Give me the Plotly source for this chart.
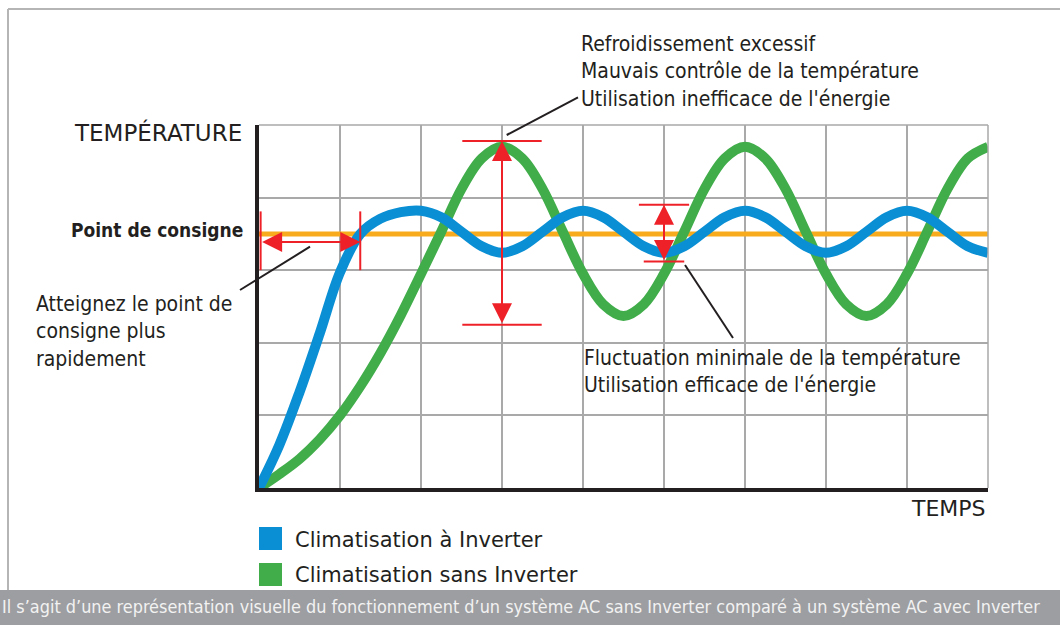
import plotly.graph_objects as go

# ---------------- data (time in grid columns 0..9, temperature in grid rows 0..5) ----------------
SETPOINT = 3.5
setpoint_x = [0, 9]
setpoint_y = [SETPOINT, SETPOINT]

inverter_x = [0, 0.25, 0.5, 0.75, 1.0, 1.25, 1.5, 1.75,
              2.0, 2.25, 2.5, 2.75, 3.0, 3.25, 3.5, 3.75,
              4.0, 4.25, 4.5, 4.75, 5.0, 5.25, 5.5, 5.75,
              6.0, 6.25, 6.5, 6.75, 7.0, 7.25, 7.5, 7.75,
              8.0, 8.25, 8.5, 8.75, 9.0]
inverter_y = [0, 0.59, 1.32, 2.13, 2.97, 3.5, 3.71, 3.80,
              3.82, 3.73, 3.53, 3.33, 3.24, 3.33, 3.53, 3.73,
              3.82, 3.73, 3.53, 3.33, 3.24, 3.33, 3.53, 3.73,
              3.82, 3.73, 3.53, 3.33, 3.24, 3.33, 3.53, 3.73,
              3.82, 3.73, 3.53, 3.33, 3.24]

non_inverter_x = [0, 0.25, 0.5, 0.75, 1.0, 1.25, 1.5, 1.75, 2.0, 2.25, 2.5, 2.75,
                  3.0, 3.25, 3.5, 3.75, 4.0, 4.25, 4.5, 4.75, 5.0, 5.25, 5.5, 5.75,
                  6.0, 6.25, 6.5, 6.75, 7.0, 7.25, 7.5, 7.75, 8.0, 8.25, 8.5, 8.75, 9.0]
non_inverter_y = [0, 0.19, 0.40, 0.67, 1.0, 1.40, 1.86, 2.38, 2.95, 3.53, 4.12, 4.54,
                  4.70, 4.54, 4.12, 3.53, 2.95, 2.53, 2.37, 2.53, 2.95, 3.53, 4.12, 4.54,
                  4.70, 4.54, 4.12, 3.53, 2.95, 2.53, 2.37, 2.53, 2.95, 3.53, 4.12, 4.54, 4.70]

series_names = ["Climatisation à Inverter", "Climatisation sans Inverter"]

# ---------------- style ----------------
BLUE = "#0a8fd5"
GREEN = "#40ad4a"
ORANGE = "#f8ab1c"
RED = "#ee2028"
INK = "#231f20"
GRID = "#a9a9a9"

F_WIDE = "DejaVu Sans, Liberation Sans, sans-serif"
F_COND = "DejaVu Sans Condensed, Roboto, Liberation Sans Narrow, sans-serif"

W, H = 1060, 625
ML, MR, MT, MB = 259, 72, 125, 137
PW, PH = W - ML - MR, H - MT - MB


def px(x):
    return (x - ML) / PW


def py(y):
    return (H - MB - y) / PH


fig = go.Figure()
fig.add_trace(go.Scatter(x=setpoint_x, y=setpoint_y, mode="lines",
                         line=dict(color=ORANGE, width=5), hoverinfo="skip", showlegend=False))
fig.add_trace(go.Scatter(x=non_inverter_x, y=non_inverter_y, mode="lines", name=series_names[1],
                         line=dict(color=GREEN, width=10, shape="spline", smoothing=1.0), showlegend=False))
fig.add_trace(go.Scatter(x=inverter_x, y=inverter_y, mode="lines", name=series_names[0],
                         line=dict(color=BLUE, width=10, shape="spline", smoothing=1.0), showlegend=False))

shapes = []
annotations = []

# outer frame and caption bar
shapes.append(dict(type="line", xref="paper", yref="paper", x0=px(8), y0=py(9), x1=px(1062), y1=py(9),
                   line=dict(color="#b5b5b5", width=2), layer="below"))
shapes.append(dict(type="line", xref="paper", yref="paper", x0=px(8), y0=py(9), x1=px(8), y1=py(590),
                   line=dict(color="#b5b5b5", width=2), layer="below"))
shapes.append(dict(type="rect", xref="paper", yref="paper", x0=px(-2), y0=py(590), x1=px(1062), y1=py(627),
                   fillcolor="#9d9ea1", line=dict(width=0), layer="below"))
# plot borders (top/right)
shapes.append(dict(type="line", xref="paper", yref="paper", x0=0, y0=1, x1=1, y1=1,
                   line=dict(color=GRID, width=1.5)))
shapes.append(dict(type="line", xref="paper", yref="paper", x0=1, y0=0, x1=1, y1=1,
                   line=dict(color=GRID, width=1.5)))

# legend squares
for i, col in enumerate([BLUE, GREEN]):
    top = 527 + i * 36
    shapes.append(dict(type="rect", xref="paper", yref="paper", x0=px(259), x1=px(282),
                       y0=py(top + 23), y1=py(top), fillcolor=col, line=dict(width=0)))
    annotations.append(dict(xref="paper", yref="paper", x=px(293), y=py(539.5 + i * 35.5),
                            text=series_names[i], showarrow=False, xanchor="left", yanchor="middle",
                            font=dict(family=F_WIDE, size=21, color=INK)))

# ---- red measurement marks tied to the data ----
HALF = 0.08  # half stroke width in data units
ARROW = dict(text="", showarrow=True, arrowside="end+start", arrowhead=2, startarrowhead=2,
             arrowsize=2.0, startarrowsize=2.0, arrowwidth=2, arrowcolor=RED,
             xref="x", yref="y", axref="x", ayref="y")
reach_x = inverter_x[inverter_y.index(SETPOINT)]
left_x = 0.02
# left: time to reach set point
for xv in (left_x, reach_x):
    shapes.append(dict(type="line", xref="x", yref="y", x0=xv, x1=xv, y0=SETPOINT - 0.5, y1=SETPOINT + 0.31,
                       line=dict(color=RED, width=2)))
annotations.append(dict(ARROW, x=reach_x, y=SETPOINT - 0.11, ax=left_x, ay=SETPOINT - 0.11))

# big swing of non-inverter
pk = non_inverter_y.index(max(non_inverter_y))
big_x = non_inverter_x[pk]
big_top = max(non_inverter_y) + HALF
big_bot = min(non_inverter_y[pk:]) - HALF - 0.04
for yv in (big_top, big_bot):
    shapes.append(dict(type="line", xref="x", yref="y", x0=big_x - 0.49, x1=big_x + 0.49, y0=yv, y1=yv,
                       line=dict(color=RED, width=2)))
annotations.append(dict(ARROW, x=big_x, y=big_top, ax=big_x, ay=big_bot))

# small swing of inverter
tr_x = 5.0
tr_i = inverter_x.index(tr_x)
small_top = max(inverter_y[tr_i - 4:tr_i]) + HALF
small_bot = inverter_y[tr_i] - HALF - 0.04
shapes.append(dict(type="line", xref="x", yref="y", x0=tr_x - 0.31, x1=tr_x + 0.31, y0=small_top, y1=small_top,
                   line=dict(color=RED, width=2)))
shapes.append(dict(type="line", xref="x", yref="y", x0=tr_x - 0.25, x1=tr_x + 0.25, y0=small_bot, y1=small_bot,
                   line=dict(color=RED, width=2)))
annotations.append(dict(ARROW, x=tr_x, y=small_top, ax=tr_x, ay=small_bot))

# leader lines
for (x0, y0, x1, y1) in [(310, 246.7, 240, 290), (506.7, 135, 578, 97.3), (685, 265, 733, 338)]:
    shapes.append(dict(type="line", xref="paper", yref="paper", x0=px(x0), y0=py(y0), x1=px(x1), y1=py(y1),
                       line=dict(color=INK, width=2)))


# texts
def label(x, y, s, size, family, xanchor="left", color=INK):
    annotations.append(dict(xref="paper", yref="paper", x=px(x), y=py(y), text=s, showarrow=False,
                            xanchor=xanchor, yanchor="middle", align="left",
                            font=dict(family=family, size=size, color=color)))


label(244, 132.5, "TEMPÉRATURE", 23, F_WIDE, "right")
label(245, 230, "<b>Point de consigne</b>", 19, F_COND, "right")
label(988, 508, "TEMPS", 22, F_WIDE, "right")
label(34, 331, "Atteignez le point de<br>consigne plus<br>rapidement", 21, F_COND)
label(579, 72, "Refroidissement excessif<br>Mauvais contrôle de la température<br>Utilisation inefficace de l'énergie",
      21, F_COND)
label(582, 371, "Fluctuation minimale de la température<br>Utilisation efficace de l'énergie", 21, F_COND)
label(0, 606, "Il s’agit d’une représentation visuelle du fonctionnement d’un système AC sans Inverter "
      "comparé à un système AC avec Inverter", 17.9, F_COND, color="#f2f2f2")

fig.update_layout(
    width=W, height=H,
    margin=dict(l=ML, r=MR, t=MT, b=MB, pad=0),
    paper_bgcolor="white", plot_bgcolor="white",
    xaxis=dict(range=[0, 9], dtick=1, showgrid=True, gridcolor=GRID, gridwidth=1.5,
               showticklabels=False, ticks="", zeroline=False, showline=True,
               linecolor=INK, linewidth=4, fixedrange=True),
    yaxis=dict(range=[0, 5], dtick=1, showgrid=True, gridcolor=GRID, gridwidth=1.5,
               showticklabels=False, ticks="", zeroline=False, showline=True,
               linecolor=INK, linewidth=4, fixedrange=True),
    shapes=shapes, annotations=annotations, showlegend=False,
)

fig.write_html("out.html", config={"displayModeBar": False},
               post_script="document.body.style.margin='0';document.body.style.overflow='hidden';")
